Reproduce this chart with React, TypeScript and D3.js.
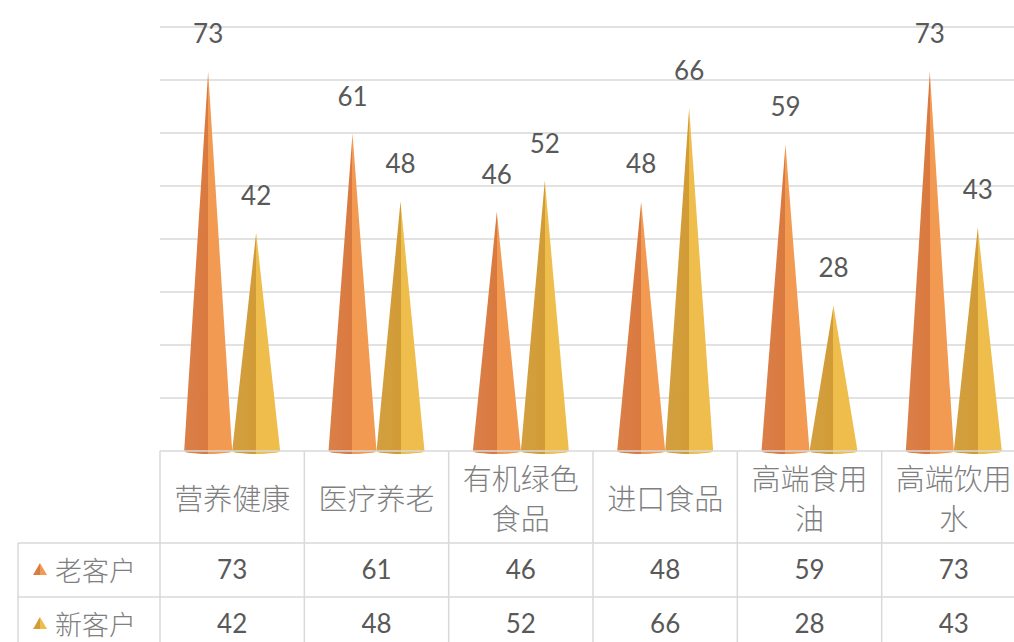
import * as d3 from "d3";

const categories = ["营养健康", "医疗养老", "有机绿色食品", "进口食品", "高端食用油", "高端饮用水"];
const seriesNames = ["老客户", "新客户"];
const oldCustomers = [73, 61, 46, 48, 59, 73];
const newCustomers = [42, 48, 52, 66, 28, 43];
const gridTicks = [10, 20, 30, 40, 50, 60, 70, 80];

const WIDTH = 1014;
const HEIGHT = 642;
const PLOT_LEFT = 160;
const PLOT_RIGHT = 1026;
const FLOOR = 451;
const HEADER_BOTTOM = 543;
const ROW_H = 54;
const TABLE_LEFT = 18;
const CONE_HALF = 24;

const GRID = "#d9d9d9";
const TEXT = "#595959";
const CAT_COLOR = "#7f7f7f";
const CAT_FONT = 29;

const palette = [
  { dark: "#d9793f", light: "#f29a52", id: "coneOld" },
  { dark: "#d19b36", light: "#efbd4b", id: "coneNew" },
];

// split a label into lines that fit the column
const wrap = (label: string, maxChars: number) => {
  const lines: string[] = [];
  for (let i = 0; i < label.length; i += maxChars) lines.push(label.slice(i, i + maxChars));
  return lines;
};

export default function App() {
  const series = [oldCustomers, newCustomers];

  const xScale = d3.scaleBand().domain(categories).range([PLOT_LEFT, PLOT_RIGHT]);
  // back wall gridlines and front cones sit at slightly different depths
  const yWall = d3.scaleLinear().domain([0, 80]).range([FLOOR, FLOOR - 8 * 53]);
  const yCone = d3.scaleLinear().domain([0, 80]).range([FLOOR, FLOOR - 80 * 5.2]);

  const maxChars = Math.floor((xScale.bandwidth() - 10) / CAT_FONT);

  const conePath = (cx: number, tipY: number) =>
    `M${cx - CONE_HALF},${FLOOR} L${cx},${tipY} L${cx + CONE_HALF},${FLOOR} ` +
    `A${CONE_HALF},3 0 0 1 ${cx - CONE_HALF},${FLOOR} Z`;

  return (
    <svg
      width={WIDTH}
      height={HEIGHT}
      style={{ position: "absolute", left: 0, top: 0, background: "#fff" }}
    >
      <defs>
        {palette.map((p) => (
          <linearGradient key={p.id} id={p.id} x1="0" x2="1" y1="0" y2="0">
            <stop offset="0%" stopColor={p.dark} stopOpacity={0.95} />
            <stop offset="50%" stopColor={p.dark} />
            <stop offset="50%" stopColor={p.light} />
            <stop offset="100%" stopColor={p.light} />
          </linearGradient>
        ))}
      </defs>

      {/* gridlines */}
      {gridTicks.map((t) => (
        <line
          key={t}
          x1={PLOT_LEFT}
          x2={WIDTH}
          y1={yWall(t)}
          y2={yWall(t)}
          stroke={GRID}
          strokeWidth={1.5}
        />
      ))}

      {/* cones */}
      {categories.map((cat, i) => {
        const center = (xScale(cat) ?? 0) + xScale.bandwidth() / 2;
        return series.map((values, s) => {
          const cx = center + (s === 0 ? -CONE_HALF : CONE_HALF);
          const tipY = yCone(values[i]);
          return (
            <g key={cat + s}>
              <path d={conePath(cx, tipY)} fill={`url(#${palette[s].id})`} />
              <text
                x={cx}
                y={tipY - 28}
                textAnchor="middle"
                fontFamily="Lato, 'Open Sans', sans-serif"
                fontSize={26}
                fill={TEXT}
              >
                {values[i]}
              </text>
            </g>
          );
        });
      })}

      {/* data table */}
      <g stroke={GRID} strokeWidth={1.5}>
        <line x1={PLOT_LEFT} x2={WIDTH} y1={FLOOR} y2={FLOOR} />
        <line x1={TABLE_LEFT} x2={WIDTH} y1={HEADER_BOTTOM} y2={HEADER_BOTTOM} />
        <line
          x1={TABLE_LEFT}
          x2={WIDTH}
          y1={HEADER_BOTTOM + ROW_H}
          y2={HEADER_BOTTOM + ROW_H}
        />
        <line x1={TABLE_LEFT} x2={TABLE_LEFT} y1={HEADER_BOTTOM} y2={HEIGHT} />
        {categories.map((cat) => (
          <line
            key={cat}
            x1={xScale(cat) ?? 0}
            x2={xScale(cat) ?? 0}
            y1={FLOOR}
            y2={HEIGHT}
          />
        ))}
      </g>

      {categories.map((cat) => {
        const center = (xScale(cat) ?? 0) + xScale.bandwidth() / 2;
        const lines = wrap(cat, maxChars);
        const mid = (FLOOR + HEADER_BOTTOM) / 2;
        const lineH = 40;
        return (
          <text
            key={cat}
            textAnchor="middle"
            fontFamily="'Noto Sans CJK SC', sans-serif"
            fontWeight={300}
            fontSize={CAT_FONT}
            fill={CAT_COLOR}
          >
            {lines.map((ln, k) => (
              <tspan
                key={k}
                x={center}
                y={mid + (k - (lines.length - 1) / 2) * lineH}
                dominantBaseline="central"
              >
                {ln}
              </tspan>
            ))}
          </text>
        );
      })}

      {seriesNames.map((name, s) => {
        const rowMid = HEADER_BOTTOM + ROW_H * s + ROW_H / 2 - 1;
        return (
          <g key={name}>
            <path
              d={`M${33},${rowMid + 6} L${40},${rowMid - 6} L${47},${rowMid + 6} Z`}
              fill={`url(#${palette[s].id})`}
            />
            <text
              x={55}
              y={rowMid}
              dominantBaseline="central"
              fontFamily="'Noto Sans CJK SC', sans-serif"
              fontWeight={300}
              fontSize={27}
              fill={CAT_COLOR}
            >
              {name}
            </text>
            {categories.map((cat, i) => (
              <text
                key={cat}
                x={(xScale(cat) ?? 0) + xScale.bandwidth() / 2}
                y={rowMid}
                dominantBaseline="central"
                textAnchor="middle"
                fontFamily="Lato, 'Open Sans', sans-serif"
                fontSize={26}
                fill={TEXT}
              >
                {series[s][i]}
              </text>
            ))}
          </g>
        );
      })}
    </svg>
  );
}
